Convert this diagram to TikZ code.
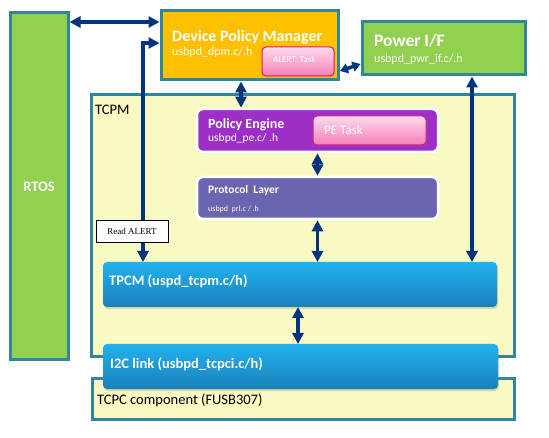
\documentclass[tikz,border=0pt]{standalone}
\usepackage{fontspec}
\setmainfont{Carlito}
\newfontfamily\seriffont{Liberation Serif}
\usetikzlibrary{arrows.meta,calc,shadows}
\definecolor{bordc}{HTML}{31859C}
\definecolor{dpmc}{HTML}{FFC000}
\definecolor{greenc}{HTML}{92D050}
\definecolor{yellowc}{HTML}{F9F9C3}
\definecolor{purplec}{HTML}{9D2FC7}
\definecolor{prlc}{HTML}{6A65B0}
\definecolor{bluetop}{HTML}{22B2EE}
\definecolor{bluebot}{HTML}{1A80BA}
\definecolor{arrc}{HTML}{00347F}
\definecolor{pinktop}{HTML}{FFDAEC}
\definecolor{pinkbot}{HTML}{F47EB9}
\definecolor{pinkbord}{HTML}{D81B7A}
\tikzset{
  bx/.style={draw=bordc, line width=3pt, anchor=north west, inner sep=0pt, outer sep=0pt},
  layerbox/.style={draw=white, line width=2.5pt, rounded corners=6pt, anchor=north west, inner sep=0pt, outer sep=0pt},
  bluebox/.style={rounded corners=4pt, anchor=north west, inner sep=0pt, outer sep=0pt,
     top color=bluetop, bottom color=bluebot,
     drop shadow={opacity=0.3, shadow xshift=1pt, shadow yshift=-2pt}},
  taskbox/.style={draw=pinkbord, line width=1pt, rounded corners=4pt, anchor=north west, inner sep=0pt, outer sep=0pt,
     top color=pinktop, bottom color=pinkbot,
     drop shadow={opacity=0.25, shadow xshift=1pt, shadow yshift=-1.5pt}},
  txt/.style={anchor=base west, inner sep=0pt, text=white},
  arr/.style={draw=arrc, line width=3.5pt, {Triangle[length=11pt,width=11pt]}-{Triangle[length=11pt,width=11pt]}},
  sarr/.style={draw=arrc, line width=3.5pt, {Triangle[length=8pt,width=10pt]}-{Triangle[length=8pt,width=10pt]}},
}
\begin{document}
\begin{tikzpicture}[x=1pt,y=-1pt]
\useasboundingbox[fill=white] (0,0) rectangle (549,438);
% outer boxes
\node[bx, fill=greenc, minimum width=58pt, minimum height=347pt] (rtos) at (10,13) {};
\node[bx, fill=yellowc, minimum width=423pt, minimum height=262pt] (tcpm) at (91,95) {};
\node[bx, fill=yellowc, minimum width=422pt, minimum height=41pt] (tcpc) at (92,378) {};
\node[bx, fill=dpmc, minimum width=177pt, minimum height=69pt] (dpm) at (161,11) {};
\node[bx, fill=greenc, minimum width=163pt, minimum height=53pt] (pwr) at (362,22) {};
\node[taskbox, minimum width=72pt, minimum height=29pt] (alert) at (262,47) {};
% layers
\node[layerbox, fill=purplec, minimum width=241pt, minimum height=43pt] (pe) at (197,109) {};
\node[taskbox, minimum width=113pt, minimum height=29pt] (petask) at (313,116) {};
\node[layerbox, fill=prlc, minimum width=241pt, minimum height=42pt] (prl) at (197,177) {};
\node[bluebox, minimum width=394pt, minimum height=45pt] (tpcmb) at (103,262) {};
\node[bluebox, minimum width=395pt, minimum height=45pt] (i2c) at (103,344) {};
% texts
\node[txt, font=\bfseries\fontsize{14.5}{16}\selectfont, anchor=base] (trtos) at ($(rtos.north)+(0,179)$) {RTOS};
\node[txt, font=\bfseries\fontsize{16}{18}\selectfont] (tdpm) at (172,42) {Device Policy Manager};
\node[txt, font=\fontsize{12}{14}\selectfont] (tdpmf) at (172,56) {usbpd\_dpm.c/.h};
\node[txt, font=\fontsize{9}{10}\selectfont] (talert) at (273,63) {ALERT\ \ Task};
\node[txt, font=\bfseries\fontsize{17.5}{19}\selectfont] (tpwr) at (374,47) {Power I/F};
\node[txt, font=\fontsize{12}{14}\selectfont] (tpwrf) at (374,63) {usbpd\_pwr\_if.c/.h};
\node[txt, text=black, font=\fontsize{14.5}{16}\selectfont] (ttcpm) at (95,115) {TCPM};
\node[txt, font=\bfseries\fontsize{14}{16}\selectfont] (tpe) at (208,129) {Policy Engine};
\node[txt, font=\fontsize{11.5}{13}\selectfont] (tpef) at (208,142) {usbpd\_pe.c/ .h};
\node[txt, font=\fontsize{13}{15}\selectfont] (tpetask) at (324,135) {PE Task};
\node[txt, font=\bfseries\fontsize{11.5}{13}\selectfont] (tprl) at (208,194) {Protocol\ \ Layer};
\node[txt, font=\fontsize{8}{9}\selectfont] (tprlf) at (208,212) {usbpd\ \ prl.c / .h};
\node[txt, font=\bfseries\fontsize{14.5}{16}\selectfont] (ttpcmb) at (109,286) {TPCM (uspd\_tcpm.c/h)};
\node[txt, font=\bfseries\fontsize{14.5}{16}\selectfont] (ti2c) at (110,369) {I2C link (usbpd\_tcpci.c/h)};
\node[txt, text=black, font=\fontsize{14.5}{16}\selectfont] (ttcpc) at (97,404) {TCPC component (FUSB307)};
% connectors
\draw[arr] ($(rtos.north east)+(1.5,9)$) -- ($(dpm.north west)+(-1.5,11)$);
\draw[arr] ($(dpm.north west)+(-1.5,32)$) -| ($(tpcmb.north west)+(40,0)$);
\draw[arr] ($(dpm.south west)+(80,1.5)$) -- ($(pe.north west)+(44,-1.3)$);
\draw[sarr] ($(dpm.south east)+(2,-9)$) -- ($(pwr.south west)+(-1.5,-11)$);
\draw[arr] ($(pwr.south west)+(110,1.5)$) -- ($(tpcmb.north west)+(369,0)$);
\draw[arr] ($(pe.south)+(0,1.3)$) -- ($(prl.north)+(0,-1.3)$);
\draw[arr] ($(prl.south)+(0,1.3)$) -- (prl.south |- tpcmb.north);
\draw[arr] ($(tpcmb.south west)+(195,0)$) -- ($(i2c.north west)+(195,0)$);
\node[draw=black, line width=0.8pt, fill=white, minimum width=72pt, minimum height=22pt, inner sep=0pt,
      font=\seriffont\fontsize{9}{10}\selectfont] (readalert) at (132,231) {Read ALERT};
\end{tikzpicture}
\end{document}
